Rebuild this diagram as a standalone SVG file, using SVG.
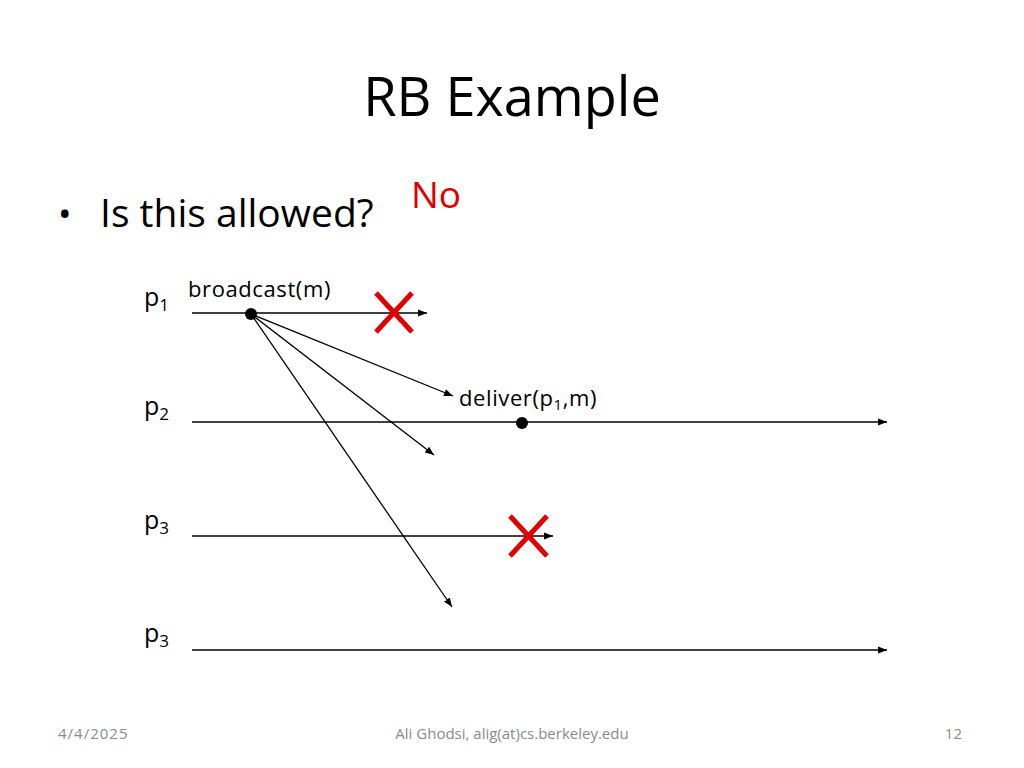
<svg xmlns="http://www.w3.org/2000/svg" width="1024" height="768" viewBox="0 0 1024 768">
<style>
text{font-family:"Open Sans","Liberation Sans",sans-serif;fill:#000}
.ln{stroke:#000;stroke-width:1.3;fill:none}
.x{stroke:#e00000;stroke-width:5;stroke-linecap:butt}
.ft{font-size:15px;fill:#8a8a8a}
.p{font-size:25px}
.lb{font-size:22px;letter-spacing:0.6px}
</style>
<defs>
<marker id="ah" viewBox="0 0 10 10" refX="10" refY="5" markerWidth="9" markerHeight="9" markerUnits="userSpaceOnUse" orient="auto"><path d="M0,1 L10,5 L0,9 z" fill="#000"/></marker>
</defs>
<rect width="1024" height="768" fill="#fff"/>
<text x="512" y="116" text-anchor="middle" font-size="54">RB Example</text>
<text x="58" y="227" font-size="36">•</text>
<text x="100" y="227" font-size="39">Is this allowed?</text>
<text x="411" y="208" font-size="37" style="fill:#e00000">No</text>
<g id="labels">
<text class="p" x="144" y="306">p<tspan font-size="17" dy="5">1</tspan></text>
<text class="p" x="144" y="415">p<tspan font-size="17" dy="5">2</tspan></text>
<text class="p" x="144" y="529">p<tspan font-size="17" dy="5">3</tspan></text>
<text class="p" x="144" y="642">p<tspan font-size="17" dy="5">3</tspan></text>
<text class="lb" x="188" y="297">broadcast(m)</text>
<text class="lb" x="459" y="406">deliver(p<tspan font-size="15" dy="4">1</tspan><tspan dy="-4">,m)</tspan></text>
</g>
<g id="connectors">
<line class="ln" x1="192" y1="313" x2="427" y2="313" marker-end="url(#ah)"/>
<line class="ln" x1="192" y1="422" x2="887" y2="422" marker-end="url(#ah)"/>
<line class="ln" x1="192" y1="536" x2="553" y2="536" marker-end="url(#ah)"/>
<line class="ln" x1="192" y1="650" x2="887" y2="650" marker-end="url(#ah)"/>
<line class="ln" x1="251" y1="314" x2="453" y2="396" marker-end="url(#ah)"/>
<line class="ln" x1="251" y1="314" x2="434" y2="455" marker-end="url(#ah)"/>
<line class="ln" x1="251" y1="314" x2="452" y2="607" marker-end="url(#ah)"/>
</g>
<g id="events">
<circle cx="251" cy="314" r="6" fill="#000"/>
<circle cx="522" cy="423" r="6" fill="#000"/>
</g>
<g id="crosses">
<path class="x" d="M376,293 L412,332 M412,293 L376,332"/>
<path class="x" d="M510,516 L547,556 M547,516 L510,556"/>
</g>
<text class="ft" x="58" y="739" letter-spacing="1">4/4/2025</text>
<text class="ft" x="512" y="739" text-anchor="middle">Ali Ghodsi, alig(at)cs.berkeley.edu</text>
<text class="ft" x="962" y="739" text-anchor="end">12</text>
</svg>
